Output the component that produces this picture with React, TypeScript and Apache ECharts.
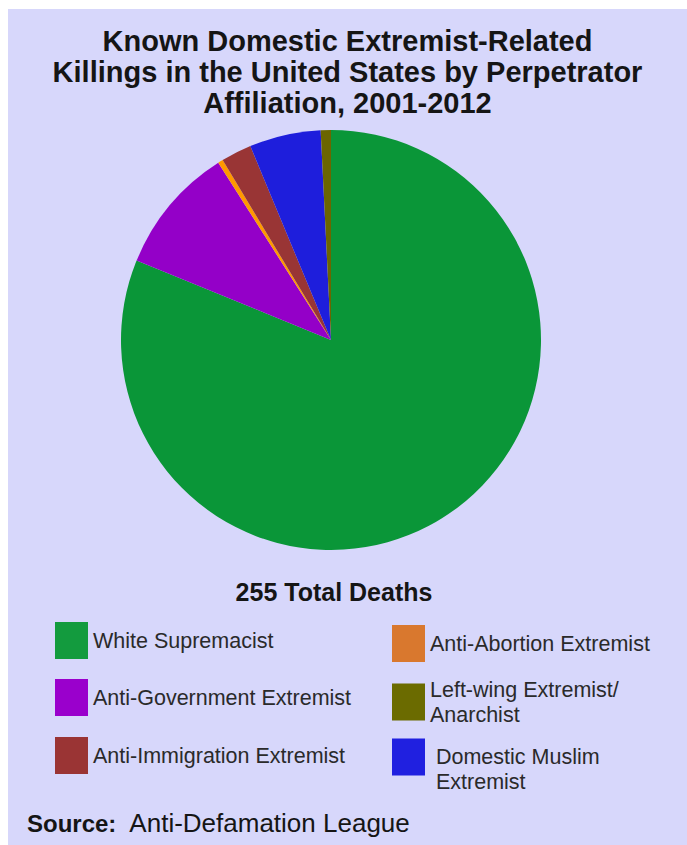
import React, { useEffect, useRef } from "react";
import * as echarts from "echarts";

const categories = [
  "White Supremacist",
  "Anti-Government Extremist",
  "Anti-Abortion Extremist",
  "Anti-Immigration Extremist",
  "Domestic Muslim Extremist",
  "Left-wing Extremist/Anarchist",
];
const deaths = [207, 25, 1, 6, 14, 2];
const sliceColors = ["#0a9638", "#9400c8", "#ff9900", "#993535", "#1e1edc", "#6b6500"];
const legendColors = ["#139b3e", "#9a00cc", "#d9782e", "#9a3434", "#2020e0", "#6b6b00"];
const legendLabels = [
  "White Supremacist",
  "Anti-Government Extremist",
  "Anti-Abortion Extremist",
  "Anti-Immigration Extremist",
  "{sp| }\n Domestic Muslim\n Extremist",
  "Left-wing Extremist/\nAnarchist",
];
const titleText = "Known Domestic Extremist-Related\nKillings in the United States by Perpetrator\nAffiliation, 2001-2012";
const totalText = "255 Total Deaths";
const sourceLabel = "Source:";
const sourceName = "Anti-Defamation League";

// legend placement per category (left, top)
const legendPos: Record<string, [number, number]> = {
  "White Supremacist": [47, 613],
  "Anti-Government Extremist": [47, 670],
  "Anti-Immigration Extremist": [47, 728],
  "Anti-Abortion Extremist": [384, 616],
  "Left-wing Extremist/Anarchist": [384, 668],
  "Domestic Muslim Extremist": [384, 711],
};

export default function App() {
  const ref = useRef<HTMLDivElement>(null);
  useEffect(() => {
    if (!ref.current) return;
    const chart = echarts.init(ref.current, null, { renderer: "svg" });
    const font = "'Liberation Sans', Arial, sans-serif";
    const legends = categories.map((name, i) => ({
      show: true,
      left: legendPos[name][0],
      top: legendPos[name][1],
      padding: 0,
      orient: "vertical" as const,
      icon: "rect",
      itemWidth: 33,
      itemHeight: 37,
      selectedMode: false,
      data: [{ name, itemStyle: { color: legendColors[i] } }],
      formatter: () => legendLabels[i],
      textStyle: {
        color: "#2a2a2a",
        fontSize: 21.5,
        fontFamily: font,
        lineHeight: 25,
        rich: { sp: { fontSize: 2, lineHeight: 24 } },
      },
    }));
    chart.setOption({
      animation: false,
      backgroundColor: "#d7d7fb",
      title: {
        text: titleText,
        left: "center",
        top: 11,
        textStyle: {
          color: "#151515",
          fontSize: 29,
          fontWeight: "bold",
          fontFamily: font,
          lineHeight: 31,
        },
      },
      legend: legends,
      graphic: [
        {
          type: "text",
          x: 326,
          y: 583,
          style: {
            text: totalText,
            fill: "#151515",
            font: `bold 25px ${font}`,
            textAlign: "center",
            textVerticalAlign: "middle",
          },
        },
        {
          type: "text",
          x: 19,
          y: 814,
          style: {
            text: `{b|${sourceLabel}}  ${sourceName}`,
            fill: "#151515",
            font: `26px ${font}`,
            textVerticalAlign: "middle",
            rich: {
              b: { fontWeight: "bold", fontSize: 24, fontFamily: font, fill: "#151515" },
            },
          },
        },
      ],
      series: [
        {
          type: "pie",
          center: [323, 331],
          radius: 210,
          startAngle: 90,
          clockwise: true,
          label: { show: false },
          labelLine: { show: false },
          emphasis: { disabled: true },
          itemStyle: { borderWidth: 0 },
          data: categories.map((name, i) => ({
            name,
            value: deaths[i],
            itemStyle: { color: sliceColors[i] },
          })),
        },
      ],
    });
    return () => chart.dispose();
  }, []);
  return (
    <div
      ref={ref}
      style={{ position: "fixed", left: 8, top: 9, width: 679, height: 836 }}
    />
  );
}
